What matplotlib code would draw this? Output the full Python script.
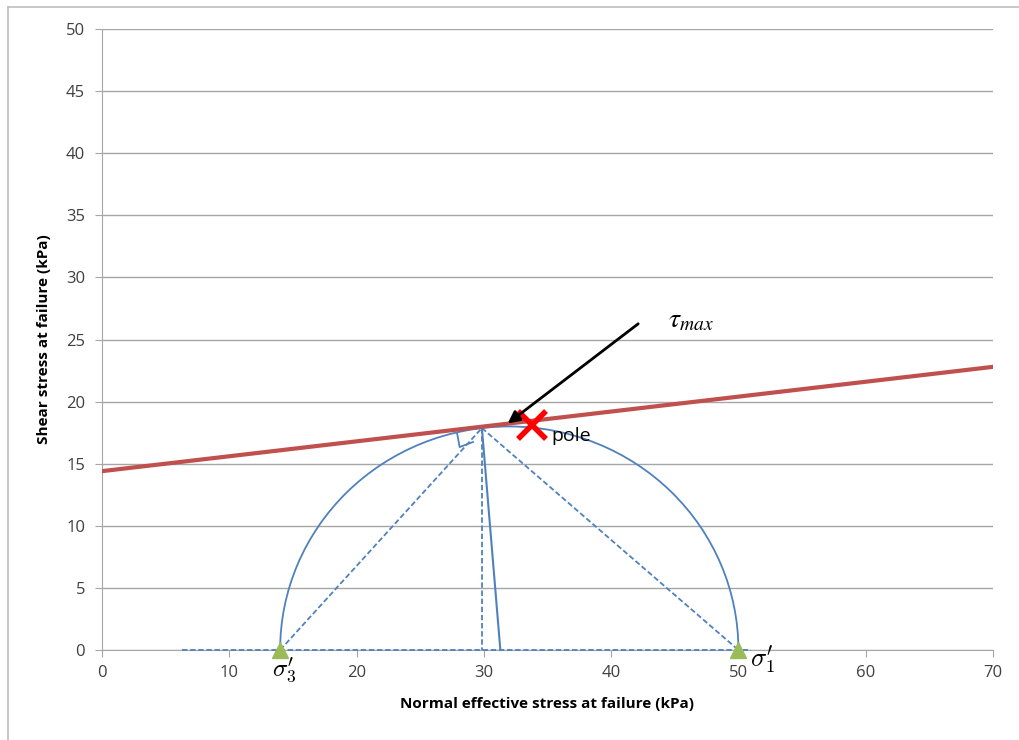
import numpy as np
import matplotlib
matplotlib.use("Agg")
from matplotlib import pyplot as plt
from matplotlib.patches import Arc
from matplotlib.lines import Line2D

plt.rcParams['font.family'] = ['Open Sans', 'DejaVu Sans']
plt.rcParams['mathtext.fontset'] = 'stix'

# Mohr circle at failure (kPa)
sigma3 = 14.0
sigma1 = 50.0

# failure envelope end points
env_x = [0, 70]
env_y = [14.4, 22.8]

# construction lines
tangent_pt = (29.85, 17.87)
dashed_base_x = [6.3, 51.0]
vert_foot_x = 29.85
solid_foot_x = 31.3
right_angle_x = [27.9, 28.1, 29.15]
right_angle_y = [17.47, 16.34, 16.75]

# pole and annotation
pole = (33.8, 18.1)
arrow_tail = (42.3, 26.4)
arrow_head = (31.7, 18.1)

x_ticks = list(range(0, 71, 10))
y_ticks = list(range(0, 51, 5))

blue = "#4F81BD"
red_line = "#C0504D"
grid_c = "#A6A6A6"

fig = plt.figure(figsize=(10.19, 7.4), dpi=100)
ax = fig.add_axes([0.100, 0.1216, 0.8745, 0.8392])

ax.set_xlim(0, 70)
ax.set_ylim(0, 50)
ax.set_xticks(x_ticks)
ax.set_yticks(y_ticks)
ax.yaxis.grid(True, color=grid_c, linewidth=1)
ax.set_axisbelow(True)
for s in ["top", "right"]:
    ax.spines[s].set_visible(False)
for s in ["left", "bottom"]:
    ax.spines[s].set_color(grid_c)
ax.tick_params(axis='both', colors=grid_c, length=5, labelcolor="#404040", labelsize=12)
ax.tick_params(axis='x', pad=6)
ax.tick_params(axis='y', pad=7)

ax.set_xlabel("Normal effective stress at failure (kPa)", fontsize=11,
              fontweight='bold', labelpad=11)
ax.set_ylabel("Shear stress at failure (kPa)", fontsize=11,
              fontweight='bold', labelpad=11)

# failure envelope
ax.plot(env_x, env_y, color=red_line, linewidth=3, zorder=4)

# Mohr circle
centre = (sigma3 + sigma1) / 2
radius = (sigma1 - sigma3) / 2
ax.add_patch(Arc((centre, 0), 2 * radius, 2 * radius, theta1=0, theta2=180,
                 color=blue, linewidth=1.3, zorder=3))

dash = dict(color=blue, linewidth=1.3, linestyle=(0, (3, 1.5)), zorder=3)
ax.plot(dashed_base_x, [0, 0], clip_on=False, **dash)
ax.plot([sigma3, tangent_pt[0]], [0, tangent_pt[1]], **dash)
ax.plot([tangent_pt[0], sigma1], [tangent_pt[1], 0], **dash)
ax.plot([tangent_pt[0], vert_foot_x], [tangent_pt[1], 0], **dash)
ax.plot([tangent_pt[0], solid_foot_x], [tangent_pt[1], 0], color=blue,
        linewidth=1.5, zorder=3)
ax.plot(right_angle_x, right_angle_y, color=blue, linewidth=1.3, zorder=3)

# principal stresses
ax.plot([sigma3, sigma1], [0, 0], linestyle='none', marker='^', markersize=12,
        color="#9BBB59", clip_on=False, zorder=5)

# pole
ax.plot(pole[0], pole[1], marker='x', markersize=20, markeredgewidth=4,
        color="#FF0000", zorder=6)
ax.text(pole[0] + 1.5, pole[1] - 0.9, "pole", fontsize=14, va='center', ha='left',
        color="#000000")

ax.annotate("", xy=arrow_head, xytext=arrow_tail,
            arrowprops=dict(arrowstyle='-|>', color='black', lw=2,
                            mutation_scale=18), zorder=7)
ax.text(arrow_tail[0] + 2.2, arrow_tail[1] + 0.1, r"$\tau_{max}$", fontsize=20,
        va='center', ha='left')

ax.text(sigma3 + 0.3, -0.45, r"$\sigma_{3}^{\prime}$", fontsize=18, va='top',
        ha='center', clip_on=False, math_fontfamily='cm', zorder=6)
ax.text(sigma1 + 0.9, 0.5, r"$\sigma_{1}^{\prime}$", fontsize=19, va='top',
        ha='left', clip_on=False, math_fontfamily='cm')

# chart frame
fig.add_artist(Line2D([8 / 1019, 8 / 1019], [0, 1 - 7 / 740], color="#BFBFBF",
                      linewidth=1.2, transform=fig.transFigure))
fig.add_artist(Line2D([8 / 1019, 1], [1 - 7 / 740, 1 - 7 / 740], color="#BFBFBF",
                      linewidth=1.2, transform=fig.transFigure))

fig.savefig("out.png", dpi=100)
